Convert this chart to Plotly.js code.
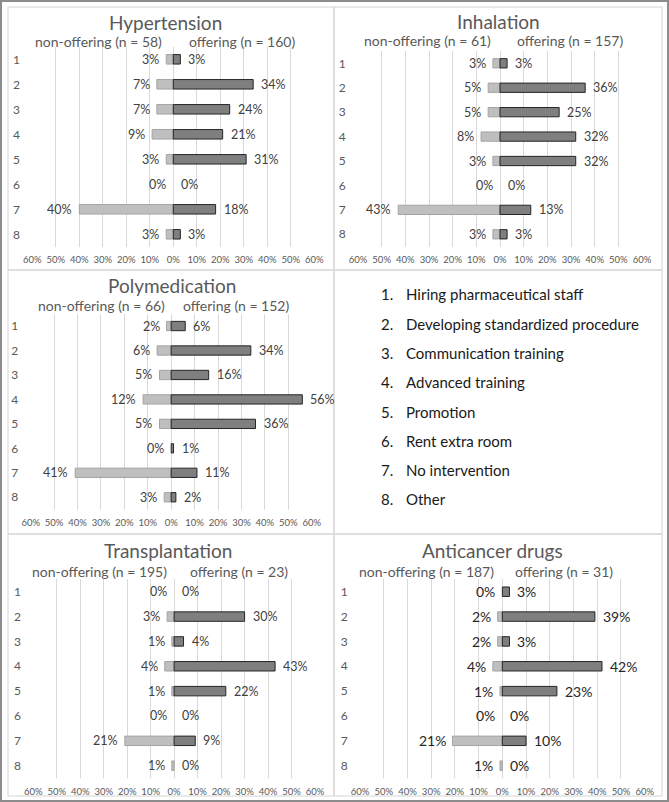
<!DOCTYPE html>
<html>
<head>
<meta charset="utf-8">
<script src="https://cdn.plot.ly/plotly-3.0.1.min.js"></script>
<style>html,body{margin:0;padding:0;background:#fff;}#chart{width:669px;height:802px;}</style>
</head>
<body>
<div id="chart"></div>
<script>
// ---------- DATA ----------
const categories = ['1', '2', '3', '4', '5', '6', '7', '8'];
const legendLabels = [
  'Hiring pharmaceutical staff',
  'Developing standardized procedure',
  'Communication training',
  'Advanced training',
  'Promotion',
  'Rent extra room',
  'No intervention',
  'Other'
];
const tickVals = [-60, -50, -40, -30, -20, -10, 0, 10, 20, 30, 40, 50, 60];
const tickText = ['60%', '50%', '40%', '30%', '20%', '10%', '0%', '10%', '20%', '30%', '40%', '50%', '60%'];

const panelTitles = ['Hypertension', 'Inhalation', 'Polymedication', 'Transplantation', 'Anticancer drugs'];
const nNonOffering = [58, 61, 66, 195, 187];
const nOffering = [160, 157, 152, 23, 31];

const hypertensionNon = [3, 7, 7, 9, 3, 0, 40, 3];
const hypertensionOff = [3, 34, 24, 21, 31, 0, 18, 3];
const inhalationNon = [3, 5, 5, 8, 3, 0, 43, 3];
const inhalationOff = [3, 36, 25, 32, 32, 0, 13, 3];
const polymedicationNon = [2, 6, 5, 12, 5, 0, 41, 3];
const polymedicationOff = [6, 34, 16, 56, 36, 1, 11, 2];
const transplantationNon = [0, 3, 1, 4, 1, 0, 21, 1];
const transplantationOff = [0, 30, 4, 43, 22, 0, 9, 0];
const anticancerNon = [0, 2, 2, 4, 1, 0, 21, 1];
const anticancerOff = [3, 39, 3, 42, 23, 0, 10, 0];

const nonSeries = [hypertensionNon, inhalationNon, polymedicationNon, transplantationNon, anticancerNon];
const offSeries = [hypertensionOff, inhalationOff, polymedicationOff, transplantationOff, anticancerOff];

// ---------- LAYOUT (pixel geometry) ----------
const W = 669, H = 802;
const px = v => v / W;
const py = v => 1 - v / H;

const panels = [
  {xl: 32.3, xr: 314.3, top: 46.8, bottom: 246.8, tx: 165, ty: 22.7, sy: 41.7, sl: 161.7, sr: 189, lab: 12.5, labColor: '#404040'},
  {xl: 358, xr: 642, top: 51.1, bottom: 246.5, tx: 498.7, ty: 21.7, sy: 40.7, sl: 490.7, sr: 517.3, lab: 12.5, labColor: '#404040'},
  {xl: 30.7, xr: 311.7, top: 313.8, bottom: 509.5, tx: 171.7, ty: 285.7, sy: 305.7, sl: 165, sr: 182.7, lab: 12.5, labColor: '#404040'},
  {xl: 33.3, xr: 315, top: 579.3, bottom: 778.1, tx: 167.5, ty: 550.7, sy: 571.7, sl: 166.7, sr: 190, lab: 12.5, labColor: '#404040'},
  {xl: 360, xr: 644.7, top: 579.3, bottom: 778.1, tx: 492.5, ty: 550.7, sy: 571.7, sl: 494, sr: 515, lab: 14, labColor: '#262626'}
];

const FONT = 'Lato, "Open Sans", sans-serif';
const GREY = '#595959';

const traces = [];
const annotations = [];
const layout = {
  width: W, height: H,
  margin: {l: 0, r: 0, t: 0, b: 0},
  paper_bgcolor: '#ffffff',
  plot_bgcolor: 'rgba(0,0,0,0)',
  showlegend: false,
  barmode: 'overlay',
  font: {family: FONT, color: GREY},
  shapes: []
};

panels.forEach((p, i) => {
  const k = i === 0 ? '' : String(i + 1);
  const xa = 'x' + k, ya = 'y' + k;
  layout['xaxis' + k] = {
    domain: [px(p.xl), px(p.xr)],
    range: [-60, 60],
    anchor: ya,
    tickvals: tickVals,
    ticktext: tickText,
    ticks: 'outside', ticklen: 4, tickcolor: 'rgba(0,0,0,0)',
    showgrid: true, gridcolor: '#d9d9d9', gridwidth: 1,
    zeroline: false, showline: false,
    tickfont: {family: FONT, size: 9.5, color: GREY},
    fixedrange: true
  };
  layout['yaxis' + k] = {
    domain: [py(p.bottom), py(p.top)],
    anchor: xa,
    type: 'category',
    categoryorder: 'array', categoryarray: categories,
    autorange: 'reversed',
    ticks: 'outside', ticklen: 9, tickcolor: 'rgba(0,0,0,0)',
    showgrid: false, zeroline: false, showline: false,
    tickfont: {family: FONT, size: 12, color: GREY},
    fixedrange: true
  };
  const non = nonSeries[i], off = offSeries[i];
  traces.push({
    type: 'bar', orientation: 'h', xaxis: xa, yaxis: ya,
    name: 'non-offering',
    y: categories, x: non.map(v => -v), width: 0.38,
    marker: {color: '#bfbfbf', line: {color: '#a3a3a3', width: non.map(v => v === 0 ? 0 : 1)}},
    hoverinfo: 'skip'
  });
  traces.push({
    type: 'bar', orientation: 'h', xaxis: xa, yaxis: ya,
    name: 'offering',
    y: categories, x: off, width: 0.38,
    marker: {color: '#7f7f7f', line: {color: '#262626', width: off.map(v => v === 0 ? 0 : 1)}},
    hoverinfo: 'skip'
  });
  categories.forEach((c, j) => {
    // y given as the category index (category names are numeric strings)
    annotations.push({
      xref: xa, yref: ya, x: -non[j], y: j, text: non[j] + '%',
      xanchor: 'right', yanchor: 'middle', xshift: -7, showarrow: false,
      borderpad: 0, borderwidth: 0,
      font: {family: FONT, size: p.lab, color: p.labColor}
    });
    annotations.push({
      xref: xa, yref: ya, x: off[j], y: j, text: off[j] + '%',
      xanchor: 'left', yanchor: 'middle', xshift: 8, showarrow: false,
      borderpad: 0, borderwidth: 0,
      font: {family: FONT, size: p.lab, color: p.labColor}
    });
  });
  annotations.push({
    xref: 'paper', yref: 'paper', x: px(p.tx), y: py(p.ty), text: panelTitles[i],
    xanchor: 'center', yanchor: 'middle', showarrow: false, borderpad: 0, borderwidth: 0,
    font: {family: FONT, size: 19, color: GREY}
  });
  annotations.push({
    xref: 'paper', yref: 'paper', x: px(p.sl), y: py(p.sy), text: 'non-offering (n = ' + nNonOffering[i] + ')',
    xanchor: 'right', yanchor: 'middle', showarrow: false, borderpad: 0, borderwidth: 0,
    font: {family: FONT, size: 14, color: GREY}
  });
  annotations.push({
    xref: 'paper', yref: 'paper', x: px(p.sr), y: py(p.sy), text: 'offering (n = ' + nOffering[i] + ')',
    xanchor: 'left', yanchor: 'middle', showarrow: false, borderpad: 0, borderwidth: 0,
    font: {family: FONT, size: 14, color: GREY}
  });
});

// Legend panel (list of interventions)
const legendTop = 294.3, legendStep = 29.3;
legendLabels.forEach((t, j) => {
  const yy = py(legendTop + j * legendStep);
  annotations.push({
    xref: 'paper', yref: 'paper', x: px(380.5), y: yy, text: categories[j] + '.',
    xanchor: 'left', yanchor: 'middle', showarrow: false, borderpad: 0, borderwidth: 0,
    font: {family: FONT, size: 15, color: '#1a1a1a'}
  });
  annotations.push({
    xref: 'paper', yref: 'paper', x: px(405.7), y: yy, text: t,
    xanchor: 'left', yanchor: 'middle', showarrow: false, borderpad: 0, borderwidth: 0,
    font: {family: FONT, size: 15, color: '#1a1a1a'}
  });
});

// Panel borders and outer frame
const colsX = [[8, 334], [334, 662]];
const rowsY = [[7, 270], [270, 534], [534, 796]];
rowsY.forEach(r => colsX.forEach(c => {
  layout.shapes.push({
    type: 'rect', xref: 'paper', yref: 'paper',
    x0: px(c[0]), x1: px(c[1]), y0: py(r[1]), y1: py(r[0]),
    line: {color: '#d4d4d4', width: 1}, fillcolor: 'rgba(0,0,0,0)'
  });
}));
layout.shapes.push({
  type: 'rect', xref: 'paper', yref: 'paper', x0: 0, x1: 1, y0: 0, y1: 1,
  line: {color: '#8c8c8c', width: 4}, fillcolor: 'rgba(0,0,0,0)'
});

layout.annotations = annotations;
Plotly.newPlot('chart', traces, layout, {displayModeBar: false, staticPlot: true});
</script>
</body>
</html>
